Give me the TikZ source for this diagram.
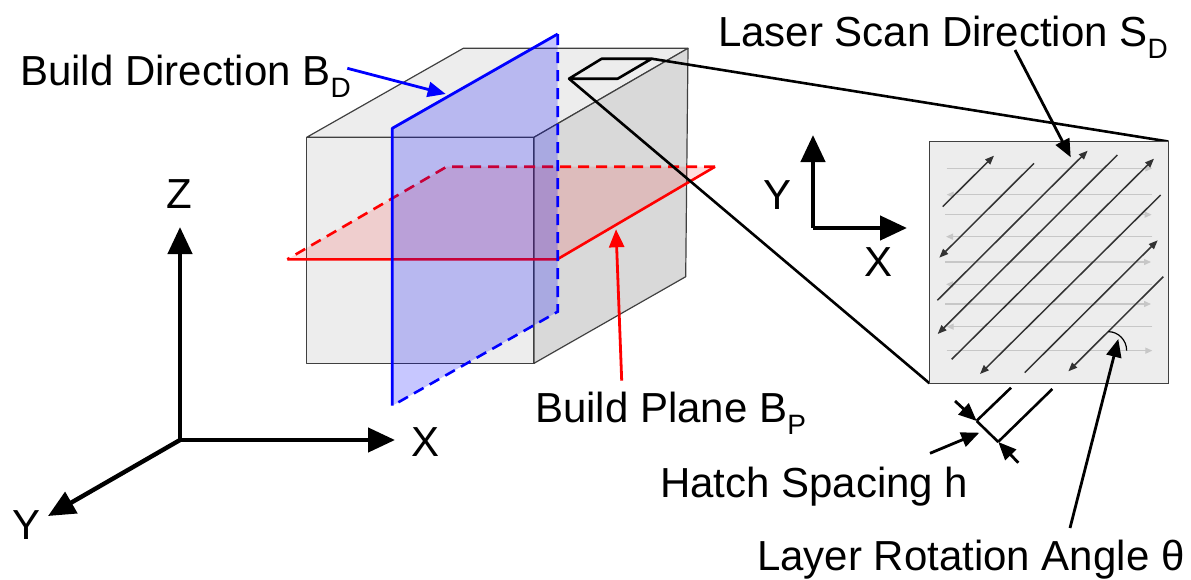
\documentclass[tikz,border=0pt]{standalone}
\usepackage{fontspec}
\setmainfont{Liberation Sans}
\usetikzlibrary{arrows.meta}
\tikzset{
  lbl/.style={anchor=base west,inner sep=0pt,font=\fontsize{42}{46}\selectfont},
  axis/.style={line width=4.4pt,-{Triangle[length=27pt,width=24pt]}},
  callout/.style={line width=2.8pt,-{Triangle[length=18pt,width=15pt]}},
  cube/.style={draw=black!75,line width=1.2pt,line join=round},
  hatchg/.style={draw=black!22,line width=1.3pt},
  hatchar/.style={hatchg,-{Triangle[length=7pt,width=6pt]}},
  diag/.style={draw=black!80,line width=1.5pt},
  diagar/.style={diag,-{Triangle[length=9pt,width=7pt]}},
  zoomline/.style={line width=2.6pt,line join=round},
}
\newcommand{\subs}[1]{\raisebox{-12pt}{\fontsize{28}{30}\selectfont #1}}
\begin{document}
\begin{tikzpicture}[x=1pt,y=-1pt]
\useasboundingbox (0,0) rectangle (1191,579);
% cube
\coordinate (fa) at (306.7,137.3); \coordinate (fb) at (534,137.3);
\coordinate (fc) at (534,363.3);   \coordinate (fd) at (306.7,363.3);
\coordinate (ta) at (463.3,48.3);  \coordinate (tb) at (688,48.3);
\coordinate (bc) at (685.7,276.7);
\filldraw[cube,fill=black!7] (fa)--(fb)--(fc)--(fd)--cycle;
\filldraw[cube,fill=black!7] (fa)--(ta)--(tb)--(fb)--cycle;
\filldraw[cube,fill=black!15] (fb)--(tb)--(bc)--(fc)--cycle;
% red plane
\coordinate (ra) at (287.3,259.3); \coordinate (rb) at (446.7,166.7);
\coordinate (rc) at (715,166.7);   \coordinate (rd) at (557.3,259.3);
\fill[red,opacity=.13] (ra)--(rb)--(rc)--(rd)--cycle;
\draw[red,line width=2.6pt,dash pattern=on 11pt off 7pt] (rc)--(rb)--(ra);
\draw[red,line width=2.6pt,line join=round] (ra)--(rd)--(rc);
% blue plane
\coordinate (ba) at (392.3,128.3); \coordinate (bb) at (557.7,34);
\coordinate (bd) at (557.7,311.7); \coordinate (be) at (392.3,405.7);
\fill[blue,opacity=.22] (ba)--(bb)--(bd)--(be)--cycle;
\draw[blue,line width=2.6pt,dash pattern=on 11pt off 7pt] (bb)--(bd)--(be);
\draw[blue,line width=2.8pt,line join=round] (be)--(ba)--(bb);
% small patch and zoom lines
\coordinate (pa) at (569,78.7);   \coordinate (pb) at (601.7,58.7);
\coordinate (pc) at (651.7,58.7); \coordinate (pd) at (617.7,78.7);
\coordinate (sa) at (929.5,141.5); \coordinate (sb) at (1168.3,141.5);
\coordinate (sc) at (1168.3,383.3); \coordinate (sd) at (929.5,383.3);
\filldraw[zoomline,fill=black!7] (pa)--(pb)--(pc)--(pd)--cycle;
\draw[zoomline] (pc)--(sb);
\draw[zoomline] (pa)--(sd);
\filldraw[draw=black!75,line width=1.4pt,fill=black!7] (sa)--(sb)--(sc)--(sd)--cycle;
% hatch detail (coordinates in 1/3 pt)
\begin{scope}[shift={(900,120)},x=1/3*1pt,y=-1/3*1pt]
\draw[hatchar] (140,145)--(757,145);
\draw[hatchar] (757,224)--(140,224);
\draw[hatchar] (136,284)--(755,284);
\draw[hatchar] (757,350)--(138,350);
\draw[hatchar] (136,426)--(753,426);
\draw[hatchar] (757,493)--(138,493);
\draw[hatchar] (136,552)--(753,552);
\draw[hatchar] (757,620)--(140,620);
\draw[hatchar] (140,692)--(757,692);
\draw[diagar] (128,260)--(282,107);
\draw[diagar] (402,130)--(118,413);
\draw[diagar] (112,541)--(563,92);
\draw[diagar] (652,105)--(113,642);
\draw[diagar] (155,718)--(762,116);
\draw[diagar] (782,225)--(240,762);
\draw[diagar] (374,758)--(773,361);
\draw[diagar] (790,470)--(505,754);
\draw[black,line width=1.2pt] (625,635) arc[start angle=90,end angle=0,x radius=55,y radius=-57];
\end{scope}
% axes
\coordinate (o) at (180,440);
\coordinate (oz) at (180,227); \coordinate (ox) at (395,440); \coordinate (oy) at (48,516);
\draw[axis] (o)--(oz);
\draw[axis] (o)--(ox);
\draw[axis] (o)--(oy);
\coordinate (p) at (813,228);
\coordinate (py) at (813,135); \coordinate (px) at (907,228);
\draw[axis] (p)--(py);
\draw[axis] (p)--(px);
\node[lbl,anchor=base] (lz) at (179,208) {Z};
\node[lbl,anchor=base] (lx) at (426,456) {X};
\node[lbl,anchor=base] (ly) at (27,539) {Y};
\node[lbl,anchor=base] (lsy) at (777,209) {Y};
\node[lbl,anchor=base] (lsx) at (878,276) {X};
% labels
\node[lbl] (bd) at (20,85) {Build Direction B\subs{D}};
\node[lbl] (ls) at (718,46) {Laser Scan Direction S\subs{D}};
\node[lbl] (bp) at (535,422) {Build Plane B\subs{P}};
\node[lbl] (hs) at (660,497) {Hatch Spacing h};
\node[lbl] (lr) at (757,570) {Layer Rotation Angle θ};
% callouts
\coordinate (c1s) at (347.3,68.3); \coordinate (c1e) at (445.7,94);
\draw[callout,blue] (c1s)--(c1e);
\coordinate (c2s) at (621.7,380.7); \coordinate (c2e) at (616,229.3);
\draw[callout,red] (c2s)--(c2e);
\coordinate (c3s) at (1015,50); \coordinate (c3e) at (1070.7,157.3);
\draw[callout] (c3s)--(c3e);
\coordinate (c4s) at (1070,528); \coordinate (c4e) at (1118.3,339);
\draw[callout] (c4s)--(c4e);
\coordinate (c5s) at (930,453.3); \coordinate (c5e) at (979.3,432.7);
\draw[callout] (c5s)--(c5e);
% hatch spacing
\coordinate (h1) at (1011,387.7); \coordinate (h2) at (976.7,420.7);
\coordinate (h3) at (1052.3,389); \coordinate (h4) at (998.3,441.7);
\coordinate (k1) at (955,401); \coordinate (k2) at (1018.3,462.7);
\draw[line width=2.6pt] (h1)--(h2);
\draw[line width=2.6pt] (h3)--(h4);
\draw[callout] (k1)--(976.7,421);
\draw[callout] (k2)--(998.3,442);
\draw[line width=2.6pt] (976.7,421)--(998.3,442);
\end{tikzpicture}
\end{document}
